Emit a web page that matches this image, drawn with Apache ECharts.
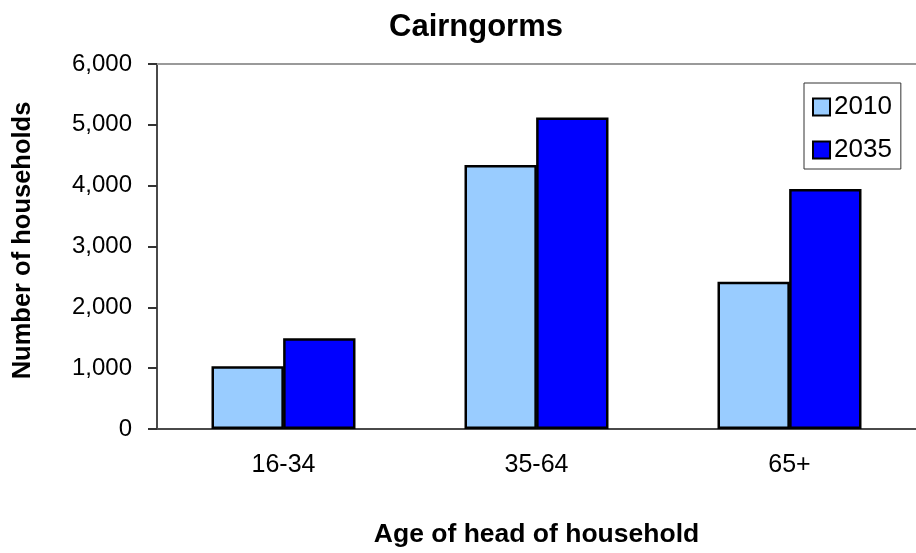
<!DOCTYPE html>
<html>
<head>
<meta charset="utf-8">
<script src="https://cdn.jsdelivr.net/npm/echarts@6/dist/echarts.min.js"></script>
<style>
  html, body { margin: 0; padding: 0; background: #fff; }
  #main { width: 916px; height: 553px; }
</style>
</head>
<body>
<div id="main"></div>
<script>
var categories = ["16-34", "35-64", "65+"];
var years = ["2010", "2035"];
var values2010 = [1030, 4340, 2420];
var values2035 = [1490, 5120, 3945];

var font = "Liberation Sans, Arial, sans-serif";

var option = {
  backgroundColor: "#fff",
  animation: false,
  title: {
    text: "Cairngorms",
    left: 471,
    top: 7,
    textAlign: "center",
    textStyle: { fontFamily: font, fontSize: 31, fontWeight: "bold", color: "#000" }
  },
  legend: {
    data: years,
    orient: "vertical",
    left: 804,
    top: 83,
    padding: [11, 9, 6, 8],
    itemGap: 17,
    itemWidth: 17,
    itemHeight: 17,
    selectedMode: false,
    borderColor: "#333",
    borderWidth: 1,
    icon: "rect",
    textStyle: { fontFamily: font, fontSize: 26, color: "#000", padding: [0, 0, 0, -1] }
  },
  grid: {
    left: 157,
    right: -7,
    top: 64,
    bottom: 123
  },
  xAxis: [
    {
      type: "category",
      data: categories,
      name: "Age of head of household",
      nameLocation: "middle",
      nameGap: 92,
      nameTextStyle: { fontFamily: font, fontSize: 26.5, fontWeight: "bold", color: "#000" },
      axisLine: { lineStyle: { color: "#4a4a4a", width: 2 } },
      axisTick: { length: 8, lineStyle: { color: "#6a6a6a", width: 2 } },
      axisLabel: { margin: 24, fontFamily: font, fontSize: 25, color: "#000" }
    },
    {
      type: "category",
      data: categories,
      position: "top",
      axisLine: { lineStyle: { color: "#9a9a9a", width: 2 } },
      axisTick: { show: false },
      axisLabel: { show: false }
    }
  ],
  yAxis: {
    type: "value",
    min: 0,
    max: 6000,
    interval: 1000,
    name: "Number of households",
    nameLocation: "middle",
    nameGap: 121,
    nameRotate: 90,
    nameTextStyle: { fontFamily: font, fontSize: 25.5, fontWeight: "bold", color: "#000", padding: [0, 0, 0, 12] },
    axisLine: { show: true, lineStyle: { color: "#4a4a4a", width: 2 } },
    axisTick: { show: true, length: 9, lineStyle: { color: "#333", width: 2 } },
    splitLine: { show: false },
    axisLabel: {
      margin: 25,
      fontFamily: font,
      fontSize: 24,
      color: "#000",
      formatter: function (v) { return v.toLocaleString("en-US"); }
    }
  },
  series: [
    {
      name: "2010",
      type: "bar",
      data: values2010,
      barWidth: "28.6%",
      barGap: "-1%",
      itemStyle: { color: "#99ccff", borderColor: "#000", borderWidth: 2.5 }
    },
    {
      name: "2035",
      type: "bar",
      data: values2035,
      barWidth: "28.6%",
      itemStyle: { color: "#0000ff", borderColor: "#000", borderWidth: 2.5 }
    }
  ]
};

var myChart = echarts.init(document.getElementById("main"));
myChart.setOption(option);
</script>
</body>
</html>
